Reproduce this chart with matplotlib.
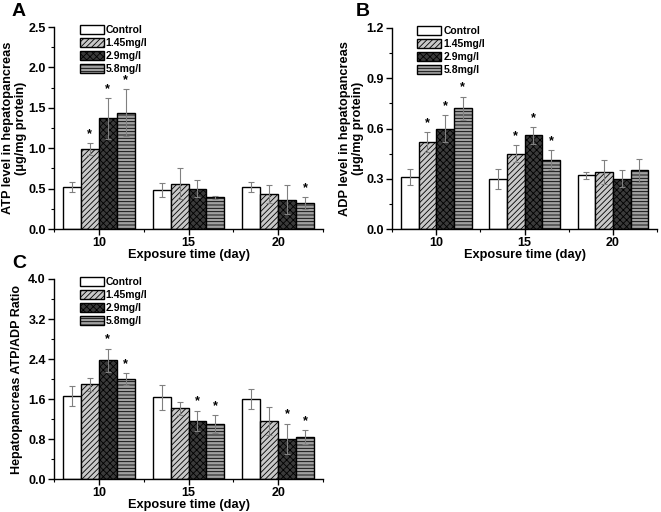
import matplotlib
matplotlib.use("Agg")
import matplotlib.pyplot as plt
from matplotlib.ticker import MultipleLocator, FormatStrFormatter
import numpy as np

plt.rcParams['font.family'] = ['Liberation Sans', 'DejaVu Sans']
plt.rcParams['font.weight'] = 'bold'
plt.rcParams['hatch.linewidth'] = 0.6

days = [10, 15, 20]
groups = ["Control", "1.45mg/l", "2.9mg/l", "5.8mg/l"]

atp_control = [0.52, 0.48, 0.52]
atp_145 = [0.99, 0.56, 0.43]
atp_29 = [1.37, 0.50, 0.36]
atp_58 = [1.44, 0.39, 0.32]
atp_err_control = [0.06, 0.09, 0.06]
atp_err_145 = [0.07, 0.19, 0.11]
atp_err_29 = [0.25, 0.11, 0.18]
atp_err_58 = [0.29, 0.02, 0.07]
atp_sig_control = [False, False, False]
atp_sig_145 = [True, False, False]
atp_sig_29 = [True, False, False]
atp_sig_58 = [True, False, True]

adp_control = [0.31, 0.30, 0.32]
adp_145 = [0.52, 0.45, 0.34]
adp_29 = [0.60, 0.56, 0.30]
adp_58 = [0.72, 0.41, 0.35]
adp_err_control = [0.05, 0.06, 0.02]
adp_err_145 = [0.06, 0.05, 0.07]
adp_err_29 = [0.08, 0.05, 0.05]
adp_err_58 = [0.07, 0.06, 0.07]
adp_sig_control = [False, False, False]
adp_sig_145 = [True, True, False]
adp_sig_29 = [True, True, False]
adp_sig_58 = [True, True, False]

ratio_control = [1.66, 1.64, 1.60]
ratio_145 = [1.90, 1.42, 1.17]
ratio_29 = [2.38, 1.17, 0.81]
ratio_58 = [2.00, 1.10, 0.84]
ratio_err_control = [0.20, 0.25, 0.20]
ratio_err_145 = [0.13, 0.13, 0.28]
ratio_err_29 = [0.23, 0.20, 0.30]
ratio_err_58 = [0.12, 0.18, 0.14]
ratio_sig_control = [False, False, False]
ratio_sig_145 = [False, False, False]
ratio_sig_29 = [True, True, True]
ratio_sig_58 = [True, True, True]

styles = [
    dict(facecolor="white", hatch=None),
    dict(facecolor="#c8c8c8", hatch="//////"),
    dict(facecolor="#3a3a3a", hatch="xxxxx"),
    dict(facecolor="#a0a0a0", hatch="-----"),
]

fig = plt.figure(figsize=(6.61, 5.12), dpi=100)
W, H = 661, 512

def rect(l, t, r, b):
    return [l / W, 1 - b / H, (r - l) / W, (b - t) / H]

def panel(ax, vals, errs, sigs, ymax, ystep, ylabel, ylab_fs, ylab_x,
          letter, lx, ly):
    offsets = [-1.5, -0.5, 0.5, 1.5]
    x = np.array(days, dtype=float)
    for i in range(4):
        st = styles[i]
        ax.bar(x + offsets[i], vals[i], width=1.0, facecolor=st["facecolor"],
               edgecolor="black", linewidth=1.0, hatch=st["hatch"],
               label=groups[i], zorder=2)
        ax.errorbar(x + offsets[i], vals[i], yerr=errs[i], fmt="none",
                    ecolor="#808080", elinewidth=0.8, capsize=2.5,
                    capthick=0.8, zorder=3)
        for j in range(3):
            if sigs[i][j]:
                ax.text(x[j] + offsets[i], vals[i][j] + errs[i][j] + ymax * 0.015,
                        "*", ha="center", va="bottom", fontsize=9,
                        fontweight="bold", zorder=4)
    ax.set_xlim(7.5, 22.5)
    ax.set_ylim(0, ymax)
    ax.set_xticks(days)
    ax.xaxis.set_minor_locator(MultipleLocator(2.5))
    ax.yaxis.set_major_locator(MultipleLocator(ystep))
    ax.yaxis.set_minor_locator(MultipleLocator(ystep / 2))
    ax.yaxis.set_major_formatter(FormatStrFormatter("%.1f"))
    ax.spines["top"].set_visible(False)
    ax.spines["right"].set_visible(False)
    ax.spines["left"].set_linewidth(1.0)
    ax.spines["bottom"].set_linewidth(1.0)
    ax.tick_params(axis="both", which="major", direction="out", length=4.5,
                   width=1.0, labelsize=9, pad=1.5)
    ax.tick_params(axis="both", which="minor", direction="out", length=2.5,
                   width=0.8)
    for lab in ax.get_xticklabels() + ax.get_yticklabels():
        lab.set_fontweight("bold")
    ax.set_xlabel("Exposure time (day)", fontsize=9.2, fontweight="bold",
                  labelpad=0)
    ax.set_ylabel(ylabel, fontsize=ylab_fs, fontweight="bold",
                  linespacing=1.1)
    ax.yaxis.set_label_coords(ylab_x, 0.5)
    leg = ax.legend(loc="upper left", bbox_to_anchor=(0.08, 1.03), frameon=False,
                    fontsize=7.5, handlelength=2.3, handleheight=1.0,
                    labelspacing=0.25, handletextpad=0.2, borderaxespad=0.0)
    for t in leg.get_texts():
        t.set_fontweight("bold")
    fig.text(lx / W, 1 - ly / H, letter, fontsize=14, fontweight="bold",
             ha="left", va="center")

axA = fig.add_axes(rect(54, 27, 323, 229))
panel(axA, [atp_control, atp_145, atp_29, atp_58],
      [atp_err_control, atp_err_145, atp_err_29, atp_err_58],
      [atp_sig_control, atp_sig_145, atp_sig_29, atp_sig_58],
      2.5, 0.5, "ATP level in hepatopancreas\n(\u03bcg/mg protein)", 9.2, -0.1,
      "A", 12, 11)

axB = fig.add_axes(rect(392, 28, 657, 229))
panel(axB, [adp_control, adp_145, adp_29, adp_58],
      [adp_err_control, adp_err_145, adp_err_29, adp_err_58],
      [adp_sig_control, adp_sig_145, adp_sig_29, adp_sig_58],
      1.2, 0.3, "ADP level in hepatopancreas\n(\u03bcg/mg protein)", 9.2, -0.105,
      "B", 356, 11)

axC = fig.add_axes(rect(54, 279, 323, 479))
panel(axC, [ratio_control, ratio_145, ratio_29, ratio_58],
      [ratio_err_control, ratio_err_145, ratio_err_29, ratio_err_58],
      [ratio_sig_control, ratio_sig_145, ratio_sig_29, ratio_sig_58],
      4.0, 0.8, "Hepatopancreas ATP/ADP Ratio", 9, -0.115,
      "C", 12, 263)

fig.savefig("out.png", dpi=100)
